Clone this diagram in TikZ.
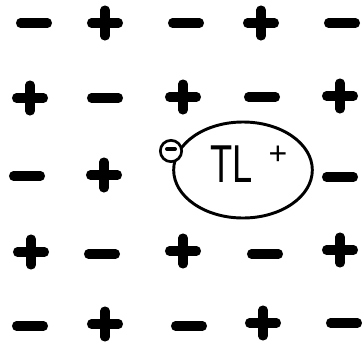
\documentclass[tikz,border=0pt]{standalone}
\usepackage{fontspec}
\setmainfont{Liberation Sans}
\usetikzlibrary{shapes.geometric}

\begin{document}
\begin{tikzpicture}[
  x=0.75pt, y=-0.75pt,
  sgn/.style  ={line width=6.8pt, line cap=round},
  atom/.style ={draw, line width=2.2pt, ellipse,
                minimum width=104pt, minimum height=72pt},
  elec/.style ={draw, line width=2pt, circle, fill=white,
                minimum size=16pt, inner sep=0pt},
  lbl/.style  ={inner sep=0pt, font=\fontsize{40}{40}\selectfont}
]
\useasboundingbox (0,0) rectangle (362,344);

%% ---- Lattice: positive sites -------------------------------------
\foreach \x/\y in {105/23, 261/23,
                   30/98, 183/97, 340/96,
                   104/175,
                   31/252, 183/251, 340/250,
                   105/324, 263/323}
  \draw[sgn] (\x-13.5,\y) -- (\x+13.5,\y) (\x,\y-13) -- (\x,\y+13);

%% ---- Lattice: negative sites -------------------------------------
\foreach \x/\y in {34/23, 186/23, 342/23,
                   105/98, 262/97,
                   27/176, 340/177,
                   102/254, 265/254,
                   30/326, 189/326, 344/323}
  \draw[sgn] (\x-13.5,\y) -- (\x+13.5,\y);

%% ---- Impurity ion with its bound electron ------------------------
\node[atom] (ion) at (243,170) {};
\node[lbl, xscale=0.68] (tl) at (232,164) {TL};
\node[inner sep=0pt, font=\fontsize{24}{24}\selectfont] (tlplus) at (278,155) {+};

\node[elec] (e) at (171,151) {};
\draw[line width=3pt, line cap=round]
     ([xshift=-3pt,yshift=1.5pt]e.center) -- ([xshift=3pt,yshift=1.5pt]e.center);

\end{tikzpicture}
\end{document}
